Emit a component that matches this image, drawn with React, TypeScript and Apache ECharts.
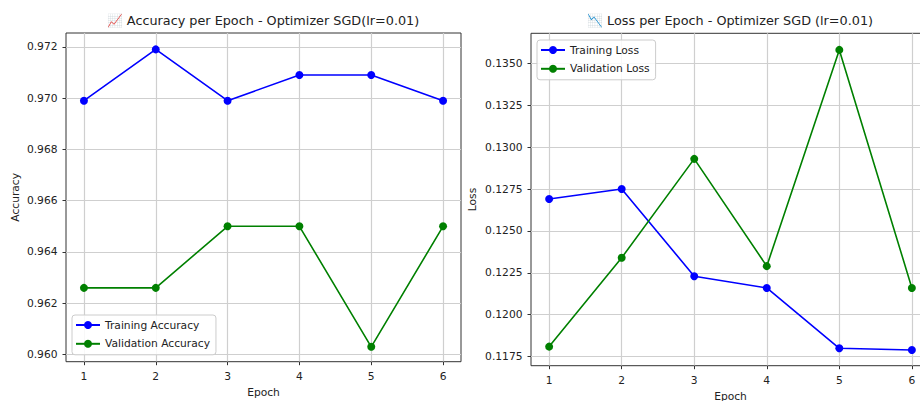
import React, { useEffect, useRef } from "react";
import * as echarts from "echarts";

// Per-epoch metrics for the SGD (lr=0.01) run
const epochs = [1, 2, 3, 4, 5, 6];
const trainAccuracy = [0.9699, 0.9719, 0.9699, 0.9709, 0.9709, 0.9699];
const valAccuracy = [0.9626, 0.9626, 0.965, 0.965, 0.9603, 0.965];
const trainLoss = [0.1269, 0.1275, 0.1223, 0.1216, 0.118, 0.1179];
const valLoss = [0.1181, 0.1234, 0.1293, 0.1229, 0.1358, 0.1216];

// Tick positions
const accuracyTicks = [0.96, 0.962, 0.964, 0.966, 0.968, 0.97, 0.972];
const lossTicks = [0.1175, 0.12, 0.1225, 0.125, 0.1275, 0.13, 0.1325, 0.135];
const epochTicks = [1, 2, 3, 4, 5, 6];

const FONT = "DejaVu Sans";
const TEXT = "#222";
const BLUE = "#0000ff";
const GREEN = "#008000";

const pairs = (ys: number[]) => epochs.map((e, i) => [e, ys[i]]);

export default function App() {
  const ref = useRef<HTMLDivElement>(null);

  useEffect(() => {
    if (!ref.current) return;
    const chart = echarts.init(ref.current, null, { renderer: "svg" });

    const xAxisBase = (gridIndex: number, gap: number) => ({
      type: "value" as const,
      gridIndex,
      min: 0.75,
      max: 6.25,
      name: "Epoch",
      nameLocation: "middle" as const,
      nameGap: gap,
      nameTextStyle: { fontFamily: FONT, fontSize: 10.7, color: TEXT, verticalAlign: "top" as const },
      axisLine: { show: false },
      axisTick: { show: true, length: 3.5, lineStyle: { color: "#333", width: 1 }, customValues: epochTicks },
      axisLabel: {
        fontFamily: FONT,
        fontSize: 10.7,
        color: TEXT,
        margin: 9,
        customValues: epochTicks,
        formatter: (v: number) => String(Math.round(v)),
      },
      splitLine: { show: true, lineStyle: { color: "#cfcfcf", width: 1.2 } },
    });

    const yAxisBase = (
      gridIndex: number,
      name: string,
      min: number,
      max: number,
      ticks: number[],
      digits: number,
      gap: number
    ) => ({
      type: "value" as const,
      gridIndex,
      min,
      max,
      scale: true,
      name,
      nameLocation: "middle" as const,
      nameGap: gap,
      nameTextStyle: { fontFamily: FONT, fontSize: 10.7, color: TEXT },
      axisLine: { show: false },
      axisTick: { show: true, length: 3.5, lineStyle: { color: "#333", width: 1 }, customValues: ticks },
      axisLabel: {
        fontFamily: FONT,
        fontSize: 10.7,
        color: TEXT,
        margin: 8.5,
        customValues: ticks,
        formatter: (v: number) => v.toFixed(digits),
      },
      splitLine: { show: true, lineStyle: { color: "#cfcfcf", width: 1.2 } },
    });

    const lineSeries = (name: string, ys: number[], color: string, axis: number) => ({
      type: "line" as const,
      name,
      xAxisIndex: axis,
      yAxisIndex: axis,
      data: pairs(ys),
      symbol: "circle",
      symbolSize: 8,
      lineStyle: { color, width: 1.6 },
      itemStyle: { color },
      z: 3,
    });

    const legendBase = {
      orient: "vertical" as const,
      itemWidth: 24,
      itemHeight: 10,
      itemGap: 6.8,
      backgroundColor: "rgba(255,255,255,0.85)",
      borderColor: "#cccccc",
      borderWidth: 1,
      borderRadius: 3,
      textStyle: { fontFamily: FONT, fontSize: 10.7, color: TEXT, lineHeight: 12 },
    };

    chart.setOption({
      animation: false,
      backgroundColor: "#ffffff",
      title: [
        {
          text: "📈 Accuracy per Epoch - Optimizer SGD(lr=0.01)",
          left: 263,
          top: 14,
          textAlign: "center",
          padding: 0,
          textStyle: { fontFamily: FONT, fontSize: 12.8, fontWeight: "normal", color: TEXT },
        },
        {
          text: "📉 Loss per Epoch - Optimizer SGD (lr=0.01)",
          left: 730,
          top: 14,
          textAlign: "center",
          padding: 0,
          textStyle: { fontFamily: FONT, fontSize: 12.8, fontWeight: "normal", color: TEXT },
        },
      ],
      legend: [
        {
          ...legendBase,
          data: ["Training Accuracy", "Validation Accuracy"],
          left: 72,
          top: 315,
          padding: [4, 6, 5, 3],
        },
        {
          ...legendBase,
          data: ["Training Loss", "Validation Loss"],
          left: 537,
          top: 40,
          padding: [4, 6, 5, 3],
        },
      ],
      grid: [
        {
          left: 66,
          top: 33,
          width: 395,
          height: 328.7,
          show: true,
          borderColor: "#333",
          borderWidth: 1,
          outerBoundsMode: "none",
        },
        {
          left: 531,
          top: 33.3,
          width: 399,
          height: 332.4,
          show: true,
          borderColor: "#333",
          borderWidth: 1,
          outerBoundsMode: "none",
        },
      ],
      xAxis: [xAxisBase(0, 25.5), xAxisBase(1, 25.5)],
      yAxis: [
        yAxisBase(0, "Accuracy", 0.95972, 0.97254, accuracyTicks, 3, 45),
        yAxisBase(1, "Loss", 0.11696, 0.13679, lossTicks, 4, 53),
      ],
      series: [
        lineSeries("Training Accuracy", trainAccuracy, BLUE, 0),
        lineSeries("Validation Accuracy", valAccuracy, GREEN, 0),
        lineSeries("Training Loss", trainLoss, BLUE, 1),
        lineSeries("Validation Loss", valLoss, GREEN, 1),
      ],
    });

    return () => chart.dispose();
  }, []);

  return (
    <div
      ref={ref}
      style={{ position: "fixed", left: 0, top: 0, width: 920, height: 401, overflow: "hidden" }}
    />
  );
}
